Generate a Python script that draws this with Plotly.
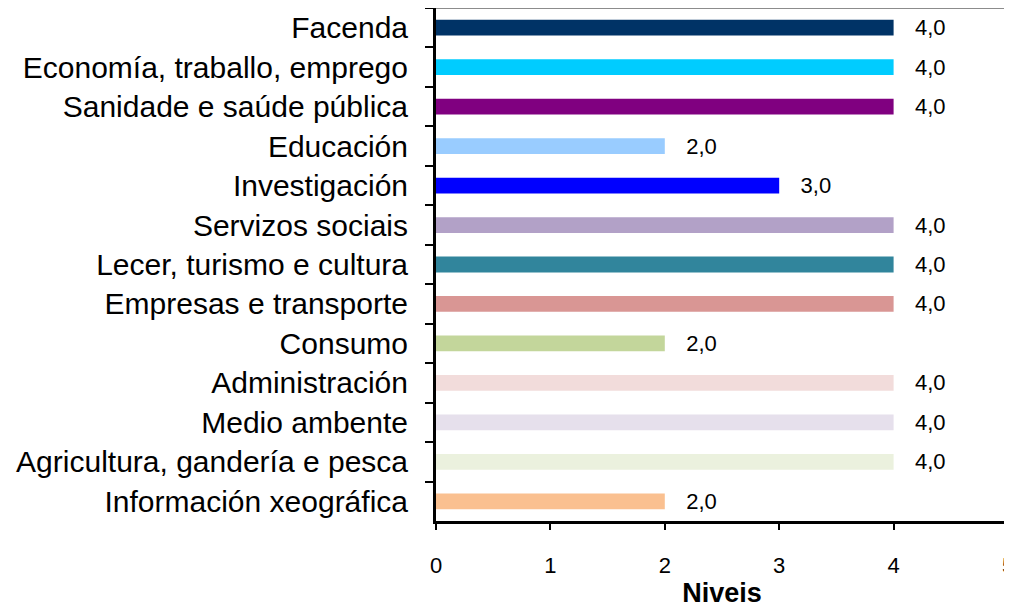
import plotly.graph_objects as go

categorias = [
    "Facenda",
    "Economía, traballo, emprego",
    "Sanidade e saúde pública",
    "Educación",
    "Investigación",
    "Servizos sociais",
    "Lecer, turismo e cultura",
    "Empresas e transporte",
    "Consumo",
    "Administración",
    "Medio ambente",
    "Agricultura, gandería e pesca",
    "Información xeográfica",
]
niveis = [4, 4, 4, 2, 3, 4, 4, 4, 2, 4, 4, 4, 2]
cores = [
    "#003366", "#00CCFF", "#800080", "#99CCFF", "#0000FF", "#B2A1C7",
    "#31859C", "#D99694", "#C3D69B", "#F2DCDB", "#E6E0EC", "#EBF1DE", "#FAC090",
]
x_ticks = [0, 1, 2, 3, 4, 5]

# etiquetas con coma decimal
etiquetas = ["   " + f"{v:.1f}".replace(".", ",") for v in niveis]

fuente = "Liberation Sans, Arial, sans-serif"

fig = go.Figure(go.Bar(
    x=niveis,
    y=categorias,
    orientation="h",
    marker=dict(color=cores, line=dict(width=0)),
    width=0.4,
    text=etiquetas,
    textposition="outside",
    constraintext="none",
    cliponaxis=False,
    textfont=dict(family=fuente, size=22, color="black"),
    hoverinfo="x+y",
))

# a páxina ten 8px de marxe no body, compénsase aquí
fig.update_layout(
    width=1012,
    height=608,
    margin=dict(l=428, r=12, t=0, b=95),
    paper_bgcolor="white",
    plot_bgcolor="white",
    showlegend=False,
    font=dict(family=fuente, color="black"),
    xaxis=dict(
        range=[0, 5],
        tickvals=x_ticks,
        ticks="outside",
        ticklen=6,
        tickwidth=2,
        tickcolor="black",
        showline=True,
        linewidth=3,
        linecolor="black",
        showgrid=False,
        zeroline=False,
        tickfont=dict(size=22),
        ticklabelstandoff=17,
        ticklabeloverflow="allow",
        title=dict(text="<b>Niveis</b>", font=dict(size=27), standoff=6),
    ),
    yaxis=dict(
        autorange="reversed",
        ticks="outside",
        tickson="boundaries",
        ticklen=8,
        tickwidth=2,
        tickcolor="black",
        showline=True,
        linewidth=3,
        linecolor="black",
        showgrid=False,
        tickfont=dict(size=30),
        ticklabelstandoff=19,
    ),
    shapes=[
        dict(type="line", xref="paper", yref="paper", x0=0, x1=1, y0=1, y1=1,
             line=dict(color="#8c8c8c", width=2)),
        dict(type="line", xref="paper", yref="paper", x0=1, x1=1, y0=0, y1=1,
             line=dict(color="#8c8c8c", width=2)),
    ],
)

fig.write_html("out.html")
